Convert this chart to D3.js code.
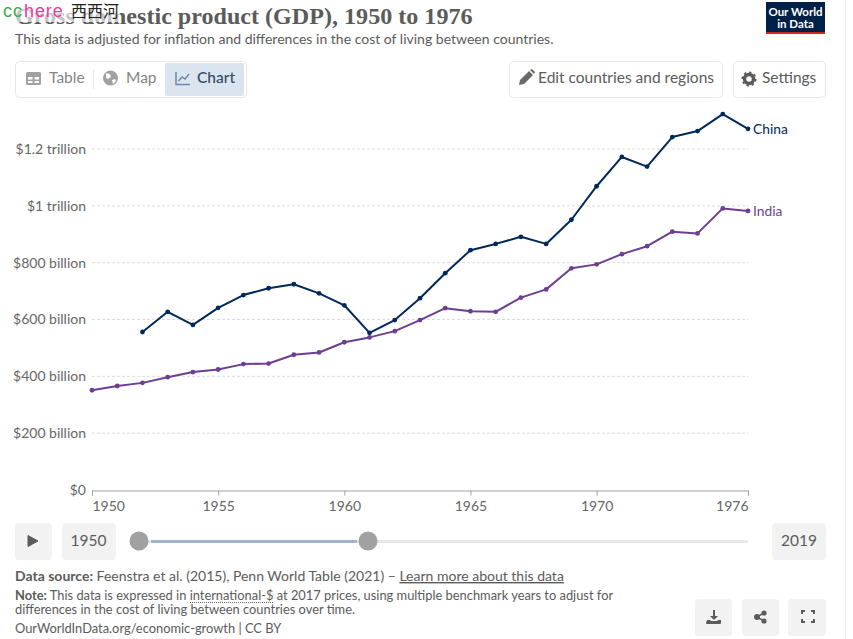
<!DOCTYPE html>
<html><head><meta charset="utf-8">
<script src="https://cdn.jsdelivr.net/npm/d3@7"></script>
<style>html,body{margin:0;padding:0;background:#fff;overflow:hidden}svg{display:block}text{font-family:Lato,sans-serif}</style>
</head><body><svg id="c" width="853" height="639"></svg>
<script>
const years=d3.range(1950,1977);
const chinaValues=[null,null,556,627,581,641,686,710,724,692,650,553,598,675,763,844,866,891,866,951,1069,1172,1138,1242,1263,1323,1271];
const indiaValues=[351,366,377,397,415,424,443,445,476,484,520,537,559,598,640,629,627,677,706,780,794,830,858,909,903,991,982];
const yTicks=[0,200,400,600,800,1000,1200];
const yTickLabels=["$0","$200 billion","$400 billion","$600 billion","$800 billion","$1 trillion","$1.2 trillion"];
const xTicks=[1950,1955,1960,1965,1970,1976];
const seriesNames=["China","India"];
const seriesColors=["#00295b","#6d3e91"];

const svg=d3.select("#c");
const x=d3.scaleLinear().domain([1950,1976]).range([92,748]);
const y=d3.scaleLinear().domain([0,1200]).range([490,149]);
const grey="#5b5b5b";

function txt(t,px,py,size,fill,opt={}){
  const e=svg.append("text").attr("x",px).attr("y",py).attr("font-size",size).attr("fill",fill).text(t);
  if(opt.anchor)e.attr("text-anchor",opt.anchor);
  if(opt.weight)e.attr("font-weight",opt.weight);
  if(opt.family)e.style("font-family",opt.family);
  if(opt.spacing)e.attr("letter-spacing",opt.spacing);
  return e;
}
function box(bx,by,w,h,fill,stroke,r=4){
  return svg.append("rect").attr("x",bx).attr("y",by).attr("width",w).attr("height",h).attr("rx",r).attr("fill",fill).attr("stroke",stroke||"none");
}

// page edge
svg.append("line").attr("x1",845.5).attr("x2",845.5).attr("y1",0).attr("y2",639).attr("stroke","#f0f0f0");

// title + subtitle
txt("Gross domestic product (GDP), 1950 to 1976",15,24,24.1,"#5b5b5b",{family:"'Liberation Serif',serif",weight:700});
svg.append("rect").attr("x",0).attr("y",0).attr("width",120).attr("height",22).attr("fill","#fff").attr("opacity",.65);
txt("This data is adjusted for inflation and differences in the cost of living between countries.",15,44,14.03,grey);
txt("cc",3,16.5,18,"#3cab4a",{family:"'Liberation Sans',sans-serif",spacing:0.9});
txt("here",24,16.5,18,"#f0399b",{family:"'Liberation Sans',sans-serif",spacing:0.9});
txt("西西河",71,16.5,16,"#222",{family:"'Noto Sans CJK SC',sans-serif"});

// logo
svg.append("rect").attr("x",766).attr("y",2).attr("width",59).attr("height",32).attr("fill","#002147");
svg.append("rect").attr("x",766).attr("y",32).attr("width",59).attr("height",2).attr("fill","#ce261e");
txt("Our World",795.5,16,11.5,"#fff",{anchor:"middle",weight:700});
txt("in Data",795.5,28,11.5,"#fff",{anchor:"middle",weight:700});

// tabs
box(15.5,61.5,231,36,"#fff","#e7e7e7");
box(165,63,79,33,"#dbe5f0",null,2);
svg.append("line").attr("x1",93.5).attr("x2",93.5).attr("y1",70).attr("y2",89).attr("stroke","#e7e7e7");
svg.append("path").attr("fill","#a1a1a1").attr("fill-rule","evenodd").attr("d","M27.5 72h12a1.5 1.5 0 0 1 1.5 1.5v10a1.5 1.5 0 0 1-1.5 1.5h-12a1.5 1.5 0 0 1-1.5-1.5v-10a1.5 1.5 0 0 1 1.5-1.5zM28 77v2.5h4.5V77zM34.5 77v2.5H39V77zM28 81v2h4.5v-2zM34.5 81v2H39v-2z");
txt("Table",49,83,15.5,"#858585");
svg.append("circle").attr("cx",110.5).attr("cy",78).attr("r",7.5).attr("fill","#a1a1a1");
svg.append("path").attr("d","M106 73l4 1 1 3-3 2-2-1zM112 80l3-1 1 2-3 3z").attr("fill","#fff");
txt("Map",126,83,15.5,"#858585");
svg.append("path").attr("d","M176 72v12.5h14M178.5 81l3.5-4 3 2 4-5").attr("fill","none").attr("stroke","#6e87a8").attr("stroke-width",1.5);
txt("Chart",197,83,15.5,"#334b66",{weight:500});

// right buttons
box(509.5,61.5,213,36,"#fff","#e7e7e7");
svg.append("path").attr("d","M519 85l1-5 9-9 4 4-9 9zM530 70l2-1 3 3-1 2z").attr("fill","#6a6a6a");
txt("Edit countries and regions",538,83,15.5,grey);
box(733.5,61.5,92,36,"#fff","#e7e7e7");
svg.append("circle").attr("cx",749).attr("cy",79).attr("r",4.5).attr("fill","none").attr("stroke","#5b5b5b").attr("stroke-width",3.5);
svg.append("circle").attr("cx",749).attr("cy",79).attr("r",6.8).attr("fill","none").attr("stroke","#5b5b5b").attr("stroke-width",1.5).attr("stroke-dasharray","2.5 2.8");
txt("Settings",762,83,15.5,grey);

// grid
svg.append("g").selectAll("line").data(yTicks.filter(d=>d>0)).join("line")
  .attr("x1",92).attr("x2",748).attr("y1",d=>y(d)).attr("y2",d=>y(d))
  .attr("stroke","#dddddd").attr("stroke-dasharray","3 2");
const yAxis=svg.append("g").attr("transform","translate(86,0)").call(d3.axisLeft(y).tickValues(yTicks).tickFormat((d,i)=>yTickLabels[i]).tickSize(0).tickPadding(0));
yAxis.select(".domain").remove();
yAxis.selectAll("text").attr("font-size",14).attr("fill","#666").style("font-family","Lato,sans-serif");
const xAxis=svg.append("g").attr("transform","translate(0,490.5)").call(d3.axisBottom(x).tickValues(xTicks).tickFormat(d3.format("d")).tickSize(5).tickSizeOuter(5).tickPadding(6));
xAxis.select(".domain").attr("stroke","#a1a1a1");
xAxis.selectAll("line").attr("stroke","#a1a1a1");
xAxis.selectAll("text").attr("font-size",14).attr("fill","#666").style("font-family","Lato,sans-serif");
xAxis.selectAll(".tick").filter(d=>d===1950).select("text").attr("text-anchor","start");
xAxis.selectAll(".tick").filter(d=>d===1976).select("text").attr("text-anchor","end");

// series
[chinaValues,indiaValues].forEach((vals,i)=>{
  const pts=years.map((yr,k)=>({yr,v:vals[k]})).filter(d=>d.v!=null);
  svg.append("path").datum(pts).attr("fill","none").attr("stroke",seriesColors[i]).attr("stroke-width",2).attr("stroke-linejoin","round")
    .attr("d",d3.line().x(d=>x(d.yr)).y(d=>y(d.v)));
  svg.append("g").selectAll("circle").data(pts).join("circle").attr("cx",d=>x(d.yr)).attr("cy",d=>y(d.v)).attr("r",2.4).attr("fill",seriesColors[i]);
  const last=pts[pts.length-1];
  txt(seriesNames[i],x(last.yr)+5,y(last.v)+5,13.8,seriesColors[i]);
});

// timeline
box(15,523,37,37,"#f2f2f2",null,4);
svg.append("path").attr("d","M28 535.5l10 5.5-10 5.5z").attr("fill","#5b5b5b").attr("stroke","#5b5b5b").attr("stroke-linejoin","round");
box(62,523,54,37,"#f2f2f2",null,4);
txt("1950",88.5,546,15.5,grey,{anchor:"middle"});
svg.append("rect").attr("x",139).attr("y",540).attr("width",609).attr("height",3).attr("fill","#e7e7e7");
svg.append("rect").attr("x",151).attr("y",540).attr("width",206).attr("height",3).attr("fill","#a0b5cc");
svg.append("circle").attr("cx",139).attr("cy",541).attr("r",9.5).attr("fill","#a1a1a1");
svg.append("circle").attr("cx",368).attr("cy",541).attr("r",9.5).attr("fill","#a1a1a1");
box(772,523,54,37,"#f2f2f2",null,4);
txt("2019",799,546,15.5,grey,{anchor:"middle"});

// footer
const src=txt("",15,581,14,grey);
src.append("tspan").attr("font-weight",700).text("Data source:");
src.append("tspan").text(" Feenstra et al. (2015), Penn World Table (2021) – ");
src.append("tspan").attr("text-decoration","underline").text("Learn more about this data");
const note=txt("",15,600,12.87,grey);
note.append("tspan").attr("font-weight",700).text("Note:");
note.append("tspan").text(" This data is expressed in international-$ at 2017 prices, using multiple benchmark years to adjust for");
txt("differences in the cost of living between countries over time.",15,614,12.87,grey);
svg.append("line").attr("x1",190).attr("x2",273).attr("y1",602.5).attr("y2",602.5).attr("stroke","#666").attr("stroke-dasharray","1 1");
txt("OurWorldInData.org/economic-growth | CC BY",15,633,12.87,grey);

// action buttons
[[695,37],[742,37],[788,38]].forEach(([bx,w])=>box(bx,599,w,37,"#f2f2f2",null,4));
svg.append("path").attr("d","M713 610h2v6h3l-4 4-4-4h3zM707 620h3l1 1h6l1-1h3v3a1 1 0 0 1-1 1h-13a1 1 0 0 1-1-1z").attr("fill","#5b5b5b");
svg.append("g").attr("stroke","#5b5b5b").attr("stroke-width",1.5).call(g=>{
  g.append("line").attr("x1",757).attr("y1",617).attr("x2",764).attr("y2",613);
  g.append("line").attr("x1",757).attr("y1",617).attr("x2",764).attr("y2",621);
});
[[757,617,3],[764,613,2.6],[764,621,2.6]].forEach(([a,b,r])=>svg.append("circle").attr("cx",a).attr("cy",b).attr("r",r).attr("fill","#5b5b5b"));
svg.append("path").attr("d","M802 614v-3h3M811 611h3v3M814 619v3h-3M805 622h-3v-3").attr("fill","none").attr("stroke","#5b5b5b").attr("stroke-width",2);
</script></body></html>
